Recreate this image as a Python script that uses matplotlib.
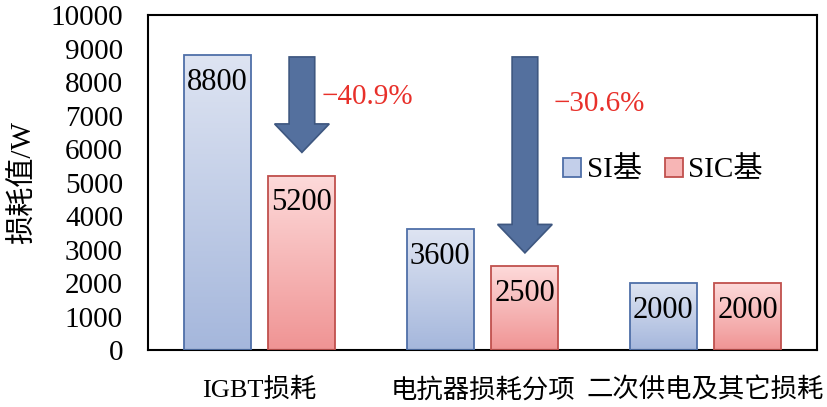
import numpy as np
import matplotlib
matplotlib.use("Agg")
import matplotlib.pyplot as plt
from matplotlib.patches import FancyArrow, Patch
from matplotlib.colors import to_rgb

# ---- data ----
categories = ["IGBT损耗", "电抗器损耗分项", "二次供电及其它损耗"]
series_names = ["SI基", "SIC基"]
si_values = [8800, 3600, 2000]
sic_values = [5200, 2500, 2000]
yticks = [0, 1000, 2000, 3000, 4000, 5000, 6000, 7000, 8000, 9000, 10000]
pct_labels = ["\u221240.9%", "\u221230.6%"]
pct_y = [7550, 7350]
arrow_top = [8750, 8750]
arrow_tip = [5900, 2900]

plt.rcParams['font.family'] = ['Liberation Serif', 'Noto Sans CJK SC', 'DejaVu Sans']
plt.rcParams['axes.unicode_minus'] = False

fig = plt.figure(figsize=(8.27, 4.07), dpi=100)
ax = fig.add_axes([0.179, 0.140, 0.809, 0.823])

x = np.arange(len(categories))
width = 0.30
offset = 0.19

si_grad = ("#DEE4F2", "#A5B7DC")
sic_grad = ("#FDDADA", "#F09494")
si_edge = "#4F6FA8"
sic_edge = "#C0504D"


def grad_bars(xpos, vals, grad, edge):
    bars = ax.bar(xpos, vals, width, facecolor="none", edgecolor=edge,
                  linewidth=1.3, zorder=3)
    top = np.array(to_rgb(grad[0]))
    bot = np.array(to_rgb(grad[1]))
    t = np.linspace(0, 1, 128)[:, None]
    img = (top * (1 - t) + bot * t)[:, None, :]
    for b in bars:
        x0 = b.get_x()
        ax.imshow(img, extent=[x0, x0 + b.get_width(), 0, b.get_height()],
                  aspect='auto', zorder=2, interpolation='bilinear')
    return bars


b1 = grad_bars(x - offset, si_values, si_grad, si_edge)
b2 = grad_bars(x + offset, sic_values, sic_grad, sic_edge)

for bars in (b1, b2):
    for b in bars:
        ax.annotate(f"{int(b.get_height())}",
                    (b.get_x() + b.get_width() / 2, b.get_height()),
                    xytext=(0, -9), textcoords="offset points",
                    ha='center', va='top', fontsize=22, zorder=5)

# arrows
for i in range(2):
    ax.add_patch(FancyArrow(x[i] + offset, arrow_top[i], 0,
                            arrow_tip[i] - arrow_top[i],
                            width=0.115, head_width=0.245, head_length=850,
                            length_includes_head=True,
                            facecolor="#54709E", edgecolor="#3E5780",
                            linewidth=1.2, zorder=4))
    ax.text(x[i] + 0.28 + (0.04 if i == 1 else 0), pct_y[i], pct_labels[i],
            color="#E8302A", fontsize=21, ha='left', va='center')

ax.set_xlim(-0.5, 2.5)
ax.set_ylim(0, 10000)
ax.set_yticks(yticks)
ax.set_yticklabels([str(v) for v in yticks], fontsize=21)
ax.set_xticks(x)
ax.set_xticklabels(categories, fontsize=19)
ax.tick_params(axis='both', length=0)
ax.tick_params(axis='x', pad=20)
ax.tick_params(axis='y', pad=18)
ax.set_ylabel("损耗值/W", fontsize=21, labelpad=10)

for s in ax.spines.values():
    s.set_linewidth(1.5)
    s.set_color("black")

handles = [Patch(facecolor="#C3CFEA", edgecolor=si_edge, linewidth=1.3),
           Patch(facecolor="#F7B5B5", edgecolor=sic_edge, linewidth=1.3)]
ax.legend(handles, series_names, loc='center', bbox_to_anchor=(0.77, 0.537),
          ncol=2, frameon=False, fontsize=21, handlelength=0.6,
          handleheight=0.6, handletextpad=0.2, columnspacing=0.8)

fig.savefig("out.png", dpi=100)
